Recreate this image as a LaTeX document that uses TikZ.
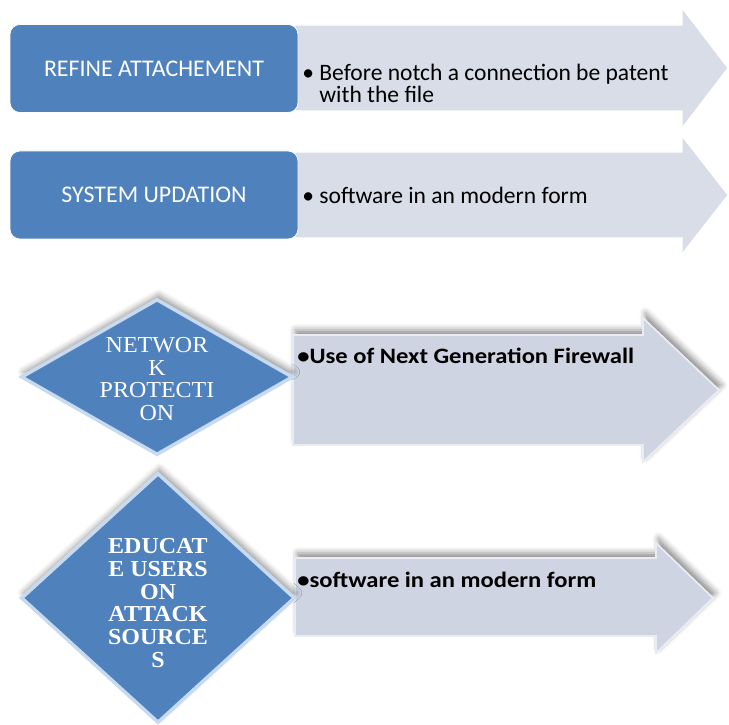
\documentclass[tikz,border=0pt]{standalone}
\usepackage{fontspec}
\usepackage{xcolor}
\usepackage{tikz}
\usetikzlibrary{shapes.geometric,shadows.blur}
\newfontfamily\calibrifont{Carlito}
\newfontfamily\widecalibri[FakeStretch=1.12]{Carlito}
\newfontfamily\timesfont[FakeStretch=1.05]{Liberation Serif}
\definecolor{officeblue}{RGB}{79,129,189}
\definecolor{paleblue}{RGB}{200,218,240}
\definecolor{arrowgray}{RGB}{216,221,232}
\definecolor{arrowshade}{RGB}{206,212,225}

\begin{document}
\begin{tikzpicture}[
    bluebox/.style={draw=white, thin, fill=officeblue, rounded corners=0.2cm,
        minimum width=5.76cm, minimum height=1.76cm, text=white,
        font=\calibrifont\fontsize{13.6}{15}\selectfont},
    bluediamond/.style={diamond, draw=paleblue, line width=2pt, fill=officeblue,
        inner sep=0pt, blur shadow={shadow xshift=0.03cm, shadow yshift=0.1cm,
        shadow blur radius=0.12cm, shadow opacity=40}},
    flatarrow/.style={fill=arrowgray, draw=white, line width=0.6pt},
    raisedarrow/.style={fill=arrowshade, draw=white!55!arrowshade, line width=1pt,
        blur shadow={shadow xshift=0.05cm, shadow yshift=0.1cm,
        shadow blur radius=0.12cm, shadow opacity=45}},
    pointtext/.style={anchor=base west, inner sep=0pt, align=left,
        font=\calibrifont\fontsize{13.4}{12.6}\selectfont},
    boldpoint/.style={anchor=base west, inner sep=0pt,
        font=\widecalibri\bfseries\fontsize{12.5}{14}\selectfont},
    diamondtext/.style={text=white, align=center, inner sep=0pt,
        font=\timesfont\fontsize{13}{13}\selectfont}
]
    \useasboundingbox (0,0) rectangle (14.58,-14.5);

    % Top row: rounded boxes with flat arrows
    \fill[flatarrow] (5.9,-0.5) -- (13.64,-0.5) -- (13.64,-0.16) -- (14.56,-1.36)
        -- (13.64,-2.56) -- (13.64,-2.22) -- (5.9,-2.22) -- cycle;
    \node[bluebox] (refine) at (3.08,-1.37) {REFINE ATTACHEMENT};
    \node[pointtext] (refinetext) at (6.04,-2.06)
        {\textbullet\ Before notch a connection be patent\\
         \hphantom{\textbullet\ }with the file};

    \fill[flatarrow] (5.9,-3.04) -- (13.64,-3.04) -- (13.64,-2.72) -- (14.56,-3.9)
        -- (13.64,-5.08) -- (13.64,-4.76) -- (5.9,-4.76) -- cycle;
    \node[bluebox] (update) at (3.08,-3.9) {SYSTEM UPDATION};
    \node[pointtext] (updatetext) at (6.04,-4.08) {\textbullet\ software in an modern form};

    % Lower row: diamonds with raised arrows
    \fill[raisedarrow] (5.86,-6.7) -- (12.86,-6.7) -- (12.86,-6.36) -- (14.38,-7.8)
        -- (12.86,-9.24) -- (12.86,-8.9) -- (5.86,-8.9) -- cycle;
    \node[bluediamond, minimum width=5.44cm, minimum height=3.12cm] (network) at (3.14,-7.54) {};
    \node[diamondtext] (networktext) at (3.14,-7.58) {NETWOR\\K\\PROTECTI\\ON};
    \node[boldpoint] (networkpoint) at (5.94,-7.26) {\textbullet Use of Next Generation Firewall};

    \fill[raisedarrow] (5.9,-11.16) -- (13.12,-11.16) -- (13.12,-10.86) -- (14.26,-11.96)
        -- (13.12,-13.06) -- (13.12,-12.72) -- (5.9,-12.72) -- cycle;
    \node[bluediamond, minimum width=5.48cm, minimum height=5cm] (educate) at (3.16,-11.96) {};
    \node[diamondtext, font=\timesfont\bfseries\fontsize{13}{13}\selectfont] (educatetext)
        at (3.16,-12.06) {EDUCAT\\E USERS\\ON\\ATTACK\\SOURCE\\S};
    \node[boldpoint] (educatepoint) at (5.94,-11.74) {\textbullet software in an modern form};
\end{tikzpicture}
\end{document}
